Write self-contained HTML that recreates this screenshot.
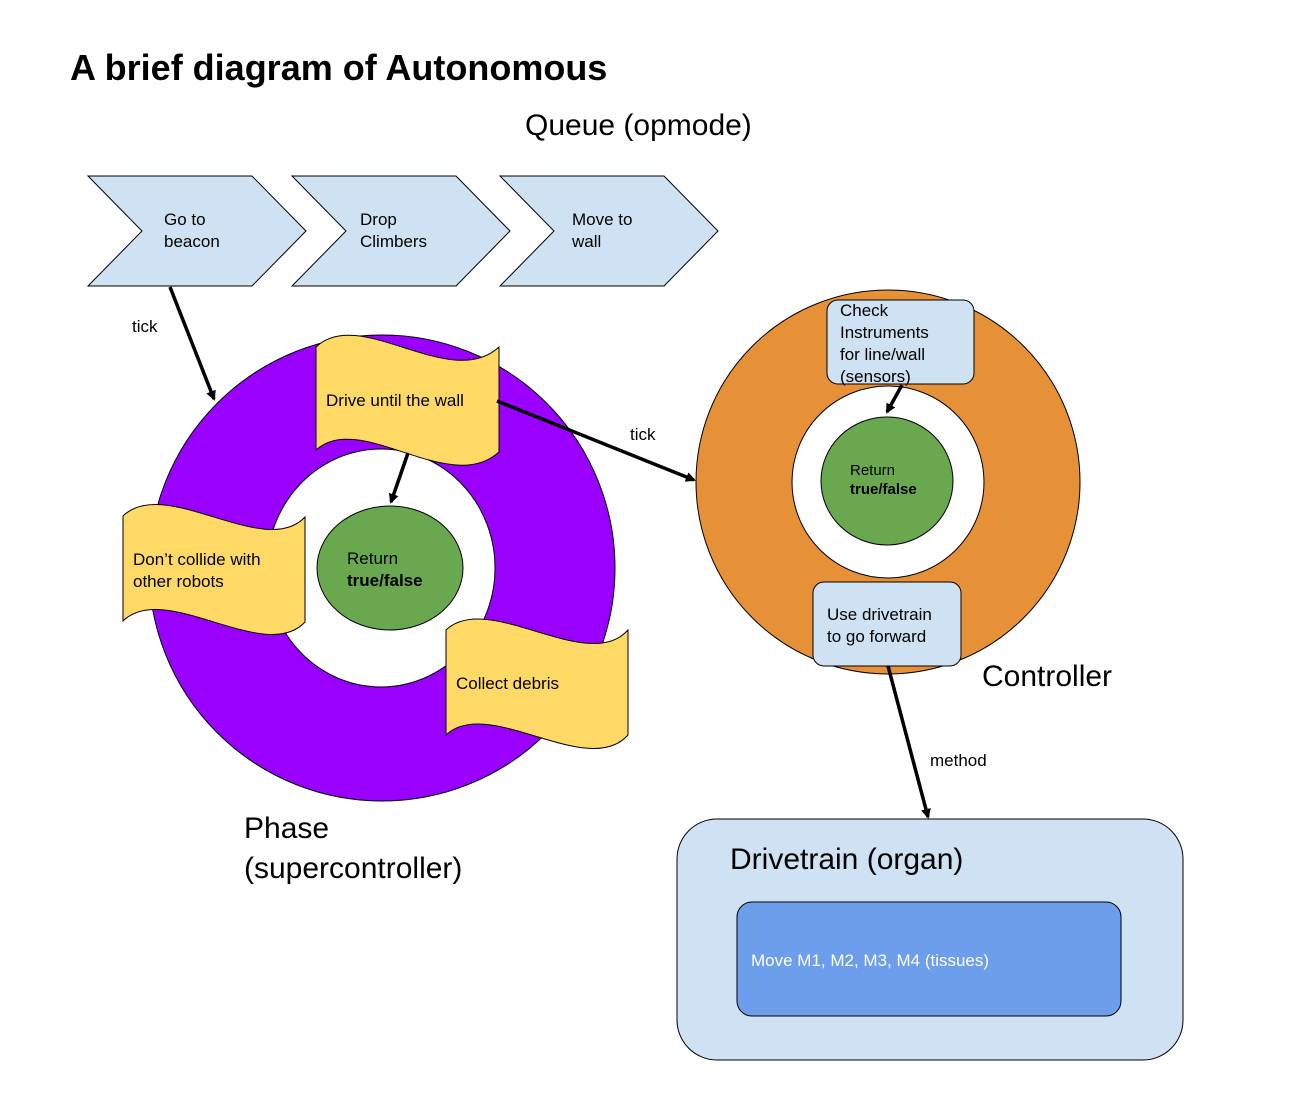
<!DOCTYPE html>
<html><head><meta charset="utf-8"><style>
html,body{margin:0;padding:0;background:#fff;}
svg{display:block;font-family:"Liberation Sans",Arial,sans-serif;}
</style></head><body>
<svg width="1301" height="1116" viewBox="0 0 1301 1116" xmlns="http://www.w3.org/2000/svg">
<defs>
<marker id="ah" markerWidth="10" markerHeight="10" refX="8" refY="5" orient="auto" markerUnits="userSpaceOnUse" viewBox="0 0 10 10">
<path d="M0,0 L10,5 L0,10 z" fill="#000"/>
</marker>
</defs>
<rect width="1301" height="1116" fill="#fff"/>
<text x="70" y="80" font-size="36" font-weight="bold">A brief diagram of Autonomous</text>
<text x="525" y="135" font-size="30">Queue (opmode)</text>

<g fill="#cfe2f3" stroke="#000" stroke-width="1">
<polygon points="88,176 252,176 306,231 252,286 88,286 142,231"/>
<polygon points="292,176 456,176 510,231 456,286 292,286 346,231"/>
<polygon points="500,176 664,176 718,231 664,286 500,286 554,231"/>
</g>
<g font-size="17">
<text x="164" y="225">Go to</text><text x="164" y="247">beacon</text>
<text x="360" y="225">Drop</text><text x="360" y="247">Climbers</text>
<text x="572" y="225">Move to</text><text x="572" y="247">wall</text>
</g>

<!-- Phase ring -->
<circle cx="382" cy="568" r="233" fill="#9900ff" stroke="#000" stroke-width="1"/>
<ellipse cx="381" cy="568" rx="114" ry="119" fill="#fff" stroke="#000" stroke-width="1"/>
<ellipse cx="390" cy="568" rx="73" ry="62" fill="#6aa84f" stroke="#000" stroke-width="1"/>
<text x="347" y="564" font-size="17">Return</text>
<text x="347" y="586" font-size="17" font-weight="bold">true/false</text>

<g fill="#ffd966" stroke="#000" stroke-width="1">
<path d="M316,347 C360,305 450,392 499,347 L499,452 C450,497 360,410 316,450 Z"/>
<path d="M123,516 C165,475 265,560 305,517 L305,622 C265,665 165,580 123,621 Z"/>
<path d="M446,630 C488,590 588,675 628,630 L628,735 C588,780 488,695 446,735 Z"/>
</g>
<text x="326" y="406" font-size="17">Drive until the wall</text>
<text x="133" y="565" font-size="17">Don’t collide with</text>
<text x="133" y="587" font-size="17">other robots</text>
<text x="456" y="689" font-size="17">Collect debris</text>

<text x="244" y="838" font-size="30">Phase</text>
<text x="244" y="878" font-size="30">(supercontroller)</text>

<!-- Controller -->
<circle cx="888" cy="482" r="192" fill="#e69138" stroke="#000" stroke-width="1"/>
<circle cx="888" cy="482" r="96" fill="#fff" stroke="#000" stroke-width="1"/>
<ellipse cx="887" cy="481" rx="66" ry="64" fill="#6aa84f" stroke="#000" stroke-width="1"/>
<text x="850" y="475" font-size="15">Return</text>
<text x="850" y="494" font-size="15" font-weight="bold">true/false</text>
<rect x="827" y="300" width="147" height="84" rx="11" fill="#cfe2f3" stroke="#000" stroke-width="1"/>
<g font-size="17">
<text x="840" y="316">Check</text><text x="840" y="338">Instruments</text>
<text x="840" y="360">for line/wall</text><text x="840" y="382">(sensors)</text>
</g>
<rect x="813" y="582" width="148" height="84" rx="11" fill="#cfe2f3" stroke="#000" stroke-width="1"/>
<text x="827" y="620" font-size="17">Use drivetrain</text>
<text x="827" y="642" font-size="17">to go forward</text>
<text x="982" y="686" font-size="30">Controller</text>

<!-- Drivetrain -->
<rect x="677" y="819" width="506" height="241" rx="40" fill="#cfe2f3" stroke="#000" stroke-width="1"/>
<text x="730" y="869" font-size="30">Drivetrain (organ)</text>
<rect x="737" y="902" width="384" height="114" rx="15" fill="#6d9eeb" stroke="#000" stroke-width="1"/>
<text x="751" y="966" font-size="17" fill="#fff">Move M1, M2, M3, M4 (tissues)</text>

<!-- arrows -->
<g stroke="#000" stroke-width="3.5" fill="none" marker-end="url(#ah)">
<line x1="170" y1="287" x2="214" y2="399"/>
<line x1="408" y1="453" x2="391" y2="502"/>
<line x1="497" y1="401" x2="694" y2="480"/>
<line x1="902" y1="385" x2="887" y2="412"/>
<line x1="888" y1="666" x2="928" y2="817"/>
</g>
<text x="132" y="332" font-size="17">tick</text>
<text x="630" y="440" font-size="17">tick</text>
<text x="930" y="766" font-size="17">method</text>
</svg>
</body></html>
